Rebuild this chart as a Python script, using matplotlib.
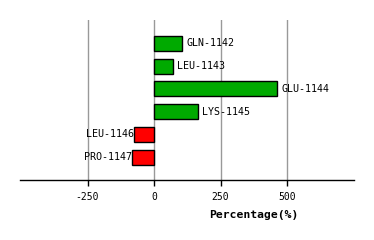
import numpy as np
import matplotlib
matplotlib.use("Agg")
import matplotlib.pyplot as plt

# residue labels and percentage values, top to bottom
residues = ["GLN-1142", "LEU-1143", "GLU-1144", "LYS-1145", "LEU-1146", "PRO-1147"]
values = [107, 70, 464, 164, -77, -81]
ticks = [-250, 0, 250, 500]

fig = plt.figure(figsize=(3.74, 2.4), dpi=100)
ax = fig.add_axes([20/374, 0.25, 334/374, 160/240])

ypos = np.arange(len(residues))
colors = ["#00AA00" if v >= 0 else "#FF0000" for v in values]
ax.barh(ypos, values, height=0.66, color=colors, edgecolor="black", linewidth=1, zorder=3)

for y, v, name in zip(ypos, values, residues):
    if v >= 0:
        ax.text(v + 15, y, name, ha="left", va="center", fontsize=7.2,
                family="DejaVu Sans Mono", zorder=4)
    else:
        ax.text(v, y, name, ha="right", va="center", fontsize=7.2,
                family="DejaVu Sans Mono", zorder=4)

ax.set_xlim(-504, 752)
ax.set_ylim(6.0, -1.03)
ax.set_xticks(ticks)
ax.set_xticklabels([str(t) for t in ticks], family="DejaVu Sans Mono", fontsize=7)
ax.set_yticks([])
for t in ticks:
    ax.axvline(t, color="#999999", linewidth=1, zorder=1)

for s in ["top", "left", "right"]:
    ax.spines[s].set_visible(False)
ax.spines["bottom"].set_linewidth(1)
ax.tick_params(axis="x", direction="out", length=4, width=1, pad=5)

fig.text(254/374, 1 - 215/240, "Percentage(%)", ha="center", va="center",
         fontsize=8.2, fontweight="bold", family="DejaVu Sans Mono")

fig.savefig("out.png", dpi=100)
